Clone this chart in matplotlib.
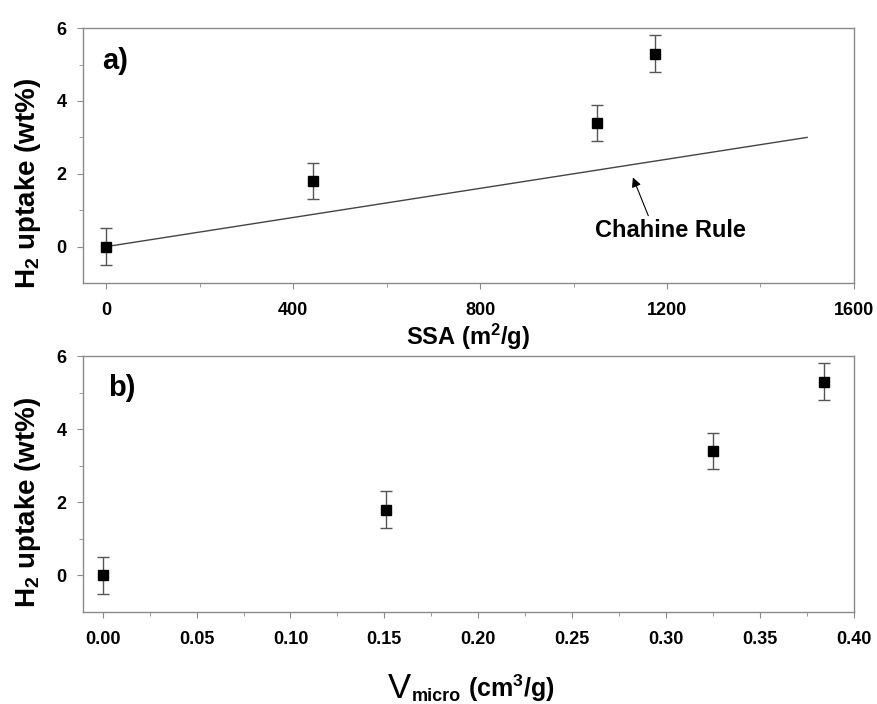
import matplotlib
matplotlib.use("Agg")
import matplotlib.pyplot as plt
import numpy as np

# H2 uptake vs specific surface area (a) and micropore volume (b)
ssa = [0, 443, 1050, 1175]            # m2/g
v_micro = [0.0, 0.151, 0.325, 0.384]  # cm3/g
uptake = [0.0, 1.8, 3.4, 5.3]         # wt%
uptake_err = [0.5, 0.5, 0.5, 0.5]

# Chahine rule: 1 wt% per 500 m2/g
chahine_x = [0, 1500]
chahine_y = [0.0, 3.0]

plt.rcParams["font.family"] = ["Liberation Sans", "DejaVu Sans"]
plt.rcParams["font.weight"] = "bold"
plt.rcParams["mathtext.fontset"] = "custom"
plt.rcParams["mathtext.rm"] = "Liberation Sans:bold"
plt.rcParams["mathtext.it"] = "Liberation Sans:bold"
plt.rcParams["mathtext.bf"] = "Liberation Sans:bold"

SPINE = "#8a8a8a"

fig = plt.figure(figsize=(8.77, 7.04), dpi=100)
ax1 = fig.add_axes([0.0946, 0.598, 0.879, 0.362])
ax2 = fig.add_axes([0.0946, 0.1307, 0.879, 0.3636])


def style(ax, label_y):
    for s in ax.spines.values():
        s.set_color(SPINE)
        s.set_linewidth(1.0)
    ax.tick_params(which="both", direction="out", color=SPINE, top=False, right=False)
    ax.tick_params(axis="x", which="major", length=4, labelsize=13, pad=10)
    ax.tick_params(axis="y", which="major", length=4, labelsize=13, pad=8)
    ax.tick_params(which="minor", length=3)
    for lab in ax.get_xticklabels() + ax.get_yticklabels():
        lab.set_fontweight("bold")
    ax.set_ylim(-1, 6)
    ax.set_yticks([0, 2, 4, 6])
    ax.set_yticks([1, 3, 5], minor=True)
    ax.set_ylabel(r"H$_2$ uptake (wt%)", fontsize=20, fontweight="bold")
    ax.yaxis.set_label_coords(-0.052, label_y)


def points(ax, x):
    ax.errorbar(x, uptake, yerr=uptake_err, fmt="s", color="black", ms=7,
                ecolor="#555555", elinewidth=1.0, capsize=4, capthick=1.0, zorder=3)


# ---- a) SSA ----
ax1.plot(chahine_x, chahine_y, color="#444444", lw=1.0)
points(ax1, ssa)
ax1.set_xlim(-50, 1600)
ax1.set_xticks([0, 400, 800, 1200, 1600])
ax1.set_xticks([200, 600, 1000, 1400], minor=True)
style(ax1, 0.39)
ax1.set_xlabel(r"SSA (m$^2$/g)", fontsize=17, fontweight="bold", labelpad=2)
ax1.text(0.025, 0.84, "a)", transform=ax1.transAxes, fontsize=21, fontweight="bold",
         va="baseline")
ax1.text(1208, 0.25, "Chahine Rule", ha="center", va="baseline", fontsize=17,
         fontweight="bold")
ax1.annotate("", xy=(1127, 1.9), xytext=(1160, 0.85),
             arrowprops=dict(arrowstyle="-|>", color="black", lw=0.8,
                             mutation_scale=14, shrinkA=0, shrinkB=0))

# ---- b) micropore volume ----
points(ax2, v_micro)
ax2.set_xlim(-0.0105, 0.40)
ax2.set_xticks([0.0, 0.05, 0.10, 0.15, 0.20, 0.25, 0.30, 0.35, 0.40])
ax2.set_xticklabels(["0.00", "0.05", "0.10", "0.15", "0.20", "0.25", "0.30", "0.35", "0.40"])
ax2.set_xticks(np.arange(0.025, 0.40, 0.05), minor=True)
style(ax2, 0.43)
ax2.text(0.032, 0.844, "b)", transform=ax2.transAxes, fontsize=21, fontweight="bold",
         va="baseline")

# x label of b): large V, small "micro" subscript, then the unit
t_v = fig.text(388 / 877, 1 - 698 / 704, "V", fontsize=25, fontweight="normal",
               va="baseline", ha="left")
t_sub = ax2.annotate("micro", xy=(1, 0), xycoords=t_v, xytext=(0.5, 0),
                     textcoords="offset points", fontsize=13, fontweight="bold",
                     va="bottom", ha="left")
ax2.annotate(r"(cm$^3$/g)", xy=(1, 0), xycoords=t_sub, xytext=(5, 1),
             textcoords="offset points", fontsize=18, fontweight="bold",
             va="bottom", ha="left")

fig.savefig("out.png", dpi=100)
